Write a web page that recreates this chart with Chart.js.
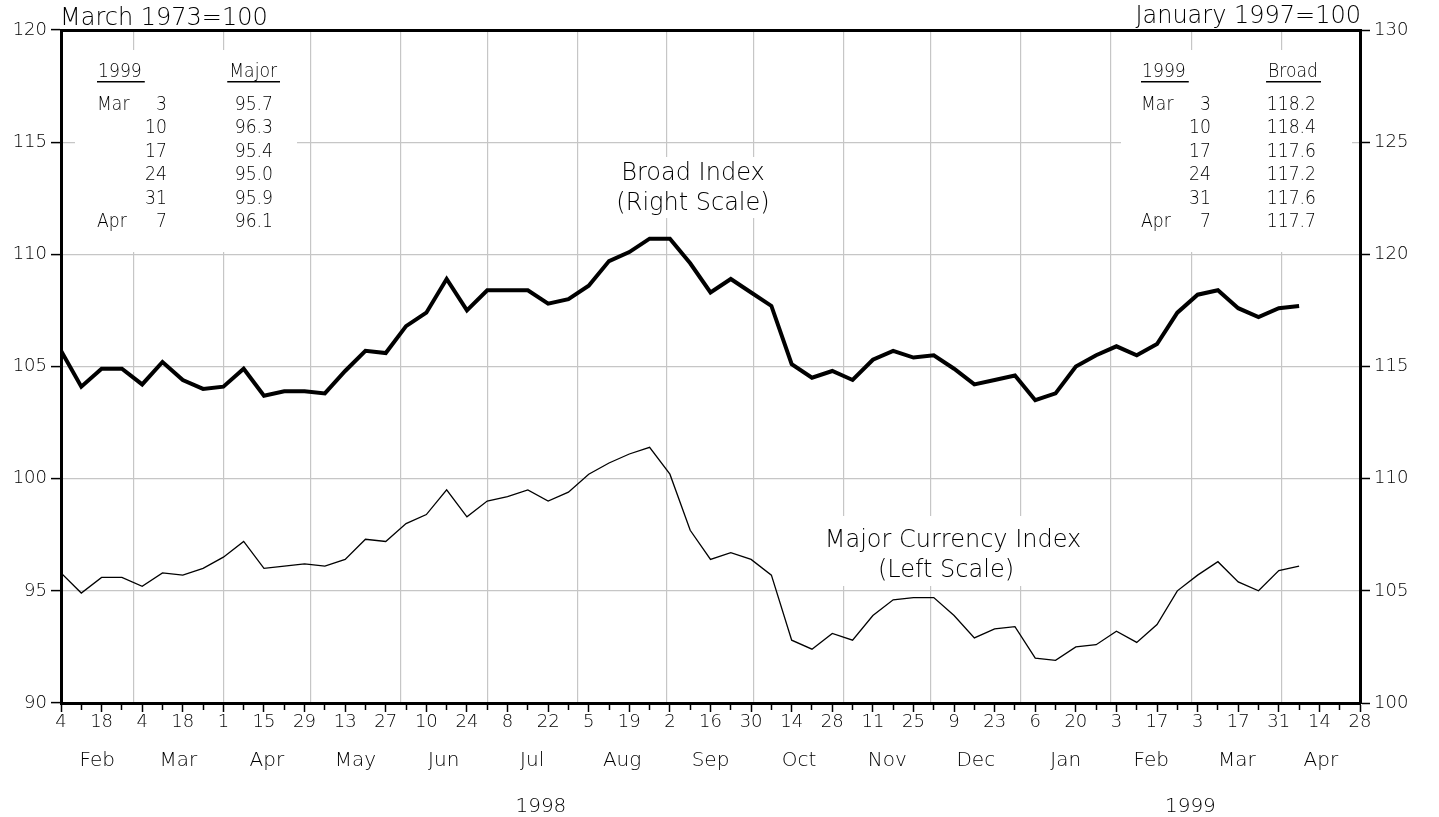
<!DOCTYPE html>
<html lang="en">
<head>
<meta charset="UTF-8">
<title>Broad and Major Currency Index</title>
<script src="https://cdn.jsdelivr.net/npm/chart.js"></script>
<style>
  html, body { margin: 0; padding: 0; background: #fff; }
  #wrap { width: 1439px; height: 817px; }
</style>
</head>
<body>
<div id="wrap"><canvas id="grafico" width="1439" height="817"></canvas></div>
<script>
// weekly data, Wednesdays from Feb 4 1998 to Apr 7 1999
const broad = [115.7, 114.1, 114.9, 114.9, 114.2, 115.2, 114.4, 114.0, 114.1, 114.9,
               113.7, 113.9, 113.9, 113.8, 114.8, 115.7, 115.6, 116.8, 117.4, 118.9,
               117.5, 118.4, 118.4, 118.4, 117.8, 118.0, 118.6, 119.7, 120.1, 120.7,
               120.7, 119.6, 118.3, 118.9, 118.3, 117.7, 115.1, 114.5, 114.8, 114.4,
               115.3, 115.7, 115.4, 115.5, 114.9, 114.2, 114.4, 114.6, 113.5, 113.8,
               115.0, 115.5, 115.9, 115.5, 116.0, 117.4, 118.2, 118.4, 117.6, 117.2,
               117.6, 117.7];
const major = [95.8, 94.9, 95.6, 95.6, 95.2, 95.8, 95.7, 96.0, 96.5, 97.2,
               96.0, 96.1, 96.2, 96.1, 96.4, 97.3, 97.2, 98.0, 98.4, 99.5,
               98.3, 99.0, 99.2, 99.5, 99.0, 99.4, 100.2, 100.7, 101.1, 101.4,
               100.2, 97.7, 96.4, 96.7, 96.4, 95.7, 92.8, 92.4, 93.1, 92.8,
               93.9, 94.6, 94.7, 94.7, 93.9, 92.9, 93.3, 93.4, 92.0, 91.9,
               92.5, 92.6, 93.2, 92.7, 93.5, 95.0, 95.7, 96.3, 95.4, 95.0,
               95.9, 96.1];

const dateLabels = ['4','18','4','18','1','15','29','13','27','10','24','8','22','5','19','2','16',
                    '30','14','28','11','25','9','23','6','20','3','17','3','17','31','14','28'];
const monthLabels = ['Feb','Mar','Apr','May','Jun','Jul','Aug','Sep','Oct','Nov','Dec','Jan','Feb','Mar','Apr'];
const yearLabels = ['1998', '1999'];
const tableDates = [['Mar','3'], ['','10'], ['','17'], ['','24'], ['','31'], ['Apr','7']];

const FONT = '"DejaVu Sans", sans-serif';
const GRID = '#c6c6c6';
const INK = '#000';

// x axis is in weeks since Feb 4 1998
const DAY = 86400000;
const t0 = Date.UTC(1998, 1, 4);
const wk = d => (d - t0) / (7 * DAY);
const XMAX = 64;
const monthEdges = [];
for (let i = 0; i <= monthLabels.length; i++) monthEdges.push(wk(Date.UTC(1998, 1 + i, 1)));
const monthMid = monthLabels.map((m, i) => (Math.max(0, monthEdges[i]) + Math.min(XMAX, monthEdges[i + 1])) / 2);
const gridWeeks = monthEdges.filter(v => v > 0 && v < XMAX);
const y99 = wk(Date.UTC(1999, 0, 1));
const yearMid = [y99 / 2, (y99 + XMAX) / 2];

const weekTicks = [];
for (let i = 0; i <= XMAX; i++) weekTicks.push(i);

function setTicks(list) {
    return scale => { scale.ticks = list.map(v => ({ value: v })); };
}
function fixH(h) { return scale => { scale.height = h; }; }
function fixW(w) { return scale => { scale.width = w; }; }

// narrow text for the small tables (squeezed horizontally)
function narrowText(ctx, txt, x, y, align) {
    const k = 0.86;
    const w = ctx.measureText(txt).width * k;
    const left = align === 'right' ? x - w : x;
    ctx.save();
    ctx.translate(left, y);
    ctx.scale(k, 1);
    ctx.textAlign = 'left';
    ctx.fillText(txt, 0, 0);
    ctx.restore();
    return w;
}

const notes = {
    id: 'notes',
    beforeDatasetsDraw(chart) {
        const { ctx, chartArea: a } = chart;
        ctx.save();
        ctx.fillStyle = '#fff';
        // white panels under the text blocks
        ctx.fillRect(a.left + 14, 50, 222, 202);
        ctx.fillRect(a.right - 239, 50, 231, 202);
        ctx.fillRect(606, 157, 176, 61);
        ctx.fillRect(814, 516, 278, 70);

        ctx.fillStyle = INK;
        ctx.font = '200 24px ' + FONT;
        ctx.textAlign = 'center';
        ctx.textBaseline = 'alphabetic';
        ctx.fillText('Broad Index', 693, 180);
        ctx.fillText('(Right Scale)', 693, 210);
        ctx.fillText('Major Currency Index', 953, 547);
        ctx.fillText('(Left Scale)', 946, 577);

        const table = (x0, dayX, valX, hdrRight, name, vals) => {
            ctx.font = '200 20px ' + FONT;
            let w = narrowText(ctx, '1999', x0 + 1, 77, 'left');
            ctx.fillRect(x0, 81, w + 4, 1.5);
            w = narrowText(ctx, name, hdrRight, 77, 'right');
            ctx.fillRect(hdrRight - w - 2, 81, w + 5, 1.5);
            tableDates.forEach((d, i) => {
                const y = 110 + i * 23.4;
                narrowText(ctx, d[0], x0, y, 'left');
                narrowText(ctx, d[1], dayX, y, 'right');
                narrowText(ctx, vals[i].toFixed(1), valX, y, 'right');
            });
        };
        table(a.left + 36, a.left + 106, a.left + 212, a.left + 216, 'Major', major.slice(-6));
        table(a.right - 219, a.right - 149, a.right - 44, a.right - 42, 'Broad', broad.slice(-6));
        ctx.restore();
    },
    afterDraw(chart) {
        const { ctx, chartArea: a } = chart;
        ctx.save();
        ctx.fillStyle = INK;
        ctx.font = '200 24px ' + FONT;
        ctx.textBaseline = 'alphabetic';
        ctx.textAlign = 'left';
        ctx.fillText('March 1973=100', a.left - 1, 25);
        ctx.textAlign = 'right';
        ctx.fillText('January 1997=100', a.right + 1, 23);
        ctx.restore();
    }
};

const tickFont = { family: FONT, size: 18, weight: 200 };
const bigFont = { family: FONT, size: 20, weight: 200 };

new Chart(document.getElementById('grafico'), {
    type: 'line',
    data: {
        datasets: [{
            label: 'Broad Index',
            data: broad.map((v, i) => ({ x: i, y: v })),
            yAxisID: 'y2',
            borderColor: '#000',
            borderWidth: 4,
            pointRadius: 0,
            tension: 0
        }, {
            label: 'Major Currency Index',
            data: major.map((v, i) => ({ x: i, y: v })),
            yAxisID: 'y',
            borderColor: '#000',
            borderWidth: 1.3,
            pointRadius: 0,
            tension: 0
        }]
    },
    options: {
        responsive: false,
        animation: false,
        events: [],
        layout: { padding: { top: 30, left: 0, right: 0, bottom: 0 } },
        plugins: { legend: { display: false }, tooltip: { enabled: false } },
        scales: {
            x: {
                type: 'linear', position: 'bottom', weight: 0, min: 0, max: XMAX,
                afterBuildTicks: setTicks(weekTicks),
                afterFit: fixH(30),
                grid: {
                    drawOnChartArea: false, tickLength: 9, tickColor: '#000', tickWidth: 1.5,
                    tickBorderDash: c => (c.index % 2 ? [5, 30] : [])
                },
                border: { color: '#000', width: 3 },
                ticks: {
                    autoSkip: false, maxRotation: 0, padding: 0, color: INK, font: tickFont,
                    callback: (v, i) => (i % 2 === 0 ? dateLabels[i / 2] : '')
                }
            },
            xg: {
                type: 'linear', position: 'bottom', weight: 1, min: 0, max: XMAX,
                afterBuildTicks: setTicks(gridWeeks),
                afterFit: fixH(0),
                grid: { color: GRID, lineWidth: 1.2, drawTicks: false },
                border: { display: false },
                ticks: { display: false }
            },
            xm: {
                type: 'linear', position: 'bottom', weight: 2, min: 0, max: XMAX,
                afterBuildTicks: setTicks(monthMid),
                afterFit: fixH(44),
                grid: { display: false, drawTicks: false },
                border: { display: false },
                ticks: {
                    autoSkip: false, maxRotation: 0, padding: 16, color: INK, font: bigFont,
                    callback: (v, i) => monthLabels[i]
                }
            },
            xy: {
                type: 'linear', position: 'bottom', weight: 3, min: 0, max: XMAX,
                afterBuildTicks: setTicks(yearMid),
                afterFit: fixH(40),
                grid: { display: false, drawTicks: false },
                border: { display: false },
                ticks: {
                    autoSkip: false, maxRotation: 0, padding: 18, color: INK, font: bigFont,
                    callback: (v, i) => yearLabels[i]
                }
            },
            xt: {
                type: 'linear', position: 'top', min: 0, max: XMAX,
                afterFit: fixH(0),
                grid: { display: false, drawTicks: false },
                border: { color: '#000', width: 3 },
                ticks: { display: false }
            },
            y: {
                position: 'left', min: 90, max: 120,
                afterFit: fixW(61),
                grid: { color: GRID, lineWidth: 1.2, tickColor: '#000', tickLength: 10, tickWidth: 1.5 },
                border: { color: '#000', width: 3 },
                ticks: { stepSize: 5, padding: 4, color: INK, font: tickFont }
            },
            y2: {
                position: 'right', min: 100, max: 130,
                afterFit: fixW(79),
                grid: { drawOnChartArea: false, tickColor: '#000', tickLength: 10, tickWidth: 1.5 },
                border: { color: '#000', width: 3 },
                ticks: { stepSize: 5, padding: 4, color: INK, font: tickFont }
            }
        }
    },
    plugins: [notes]
});
</script>
</body>
</html>
